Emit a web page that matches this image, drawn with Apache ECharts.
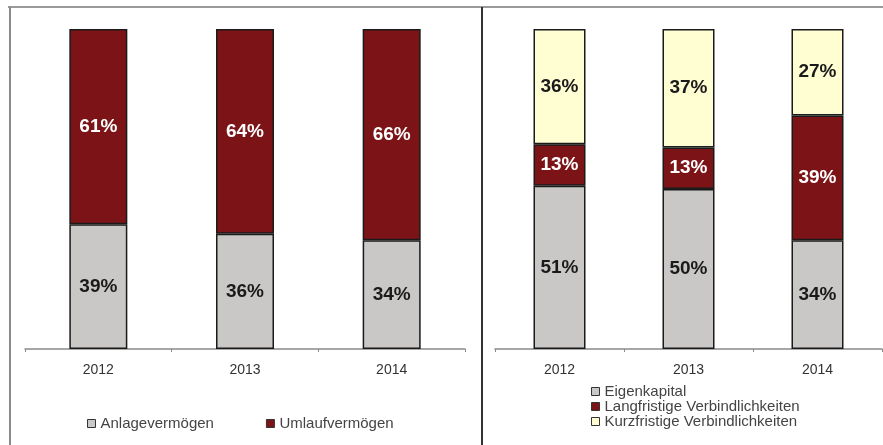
<!DOCTYPE html>
<html><head><meta charset="utf-8">
<script src="https://cdn.jsdelivr.net/npm/echarts@6/dist/echarts.min.js"></script>
<style>html,body{margin:0;padding:0;background:#fff}#c{width:883px;height:445px}</style>
</head><body><div id="c"></div>
<script>
const years = ['2012', '2013', '2014'];
// left chart
const anlagevermoegen = [39, 36, 34];
const umlaufvermoegen = [61, 64, 66];
// right chart
const eigenkapital = [51, 50, 34];
const langfristig = [13, 13, 39];
const kurzfristig = [36, 37, 27];

const GRAY = '#cac8c7', RED = '#7c1417', CREAM = '#fffdd2';
const chart = echarts.init(document.getElementById('c'));
const lbl = (color) => ({show: true, position: 'inside', formatter: p => p.value + '%',
  color: color, fontFamily: 'Liberation Sans, Arial, sans-serif', fontWeight: 'bold', fontSize: 19});
const bar = (name, data, color, txt, xi, w) => ({
  name, type: 'bar', stack: 's' + xi, xAxisIndex: xi, yAxisIndex: xi, data, barWidth: w,
  itemStyle: {color, borderColor: '#1a1a1a', borderWidth: 1.5},
  label: lbl(txt)
});
const xAx = (gi) => ({type: 'category', gridIndex: gi, data: years,
  axisLine: {lineStyle: {color: '#8a8a8a', width: 1.5}},
  axisTick: {show: true, length: 3, lineStyle: {color: '#8a8a8a'}},
  axisLabel: {color: '#333', fontSize: 14, margin: 14, fontFamily: 'Liberation Sans, Arial, sans-serif'}});
const yAx = (gi) => ({type: 'value', gridIndex: gi, min: 0, max: 100, show: false, splitLine: {show: false}});
const legText = {color: '#444', fontSize: 15, lineHeight: 15, fontFamily: 'Liberation Sans, Arial, sans-serif'};
chart.setOption({
  animation: false,
  grid: [
    {left: 25, top: 29, width: 440, height: 320},
    {left: 495, top: 29, width: 387, height: 320}
  ],
  xAxis: [xAx(0), xAx(1)],
  yAxis: [yAx(0), yAx(1)],
  legend: [
    {data: ['Anlagevermögen', 'Umlaufvermögen'], left: 87, top: 416, orient: 'horizontal', padding: 0,
      itemWidth: 8, itemHeight: 8, itemGap: 52, itemStyle: {borderColor: '#333', borderWidth: 1},
      icon: 'rect', textStyle: legText},
    {data: ['Eigenkapital', 'Langfristige Verbindlichkeiten', 'Kurzfristige Verbindlichkeiten'],
      left: 591, top: 384, orient: 'vertical', padding: 0, itemWidth: 8, itemHeight: 8, itemGap: 0, icon: 'rect',
      textStyle: legText, itemStyle: {borderColor: '#333', borderWidth: 1}}
  ],
  series: [
    bar('Anlagevermögen', anlagevermoegen, GRAY, '#1a1a1a', 0, 58),
    bar('Umlaufvermögen', umlaufvermoegen, RED, '#ffffff', 0, 58),
    bar('Eigenkapital', eigenkapital, GRAY, '#1a1a1a', 1, 52),
    bar('Langfristige Verbindlichkeiten', langfristig, RED, '#ffffff', 1, 52),
    bar('Kurzfristige Verbindlichkeiten', kurzfristig, CREAM, '#1a1a1a', 1, 52)
  ],
  graphic: [
    {type: 'line', shape: {x1: 8, y1: 7, x2: 883, y2: 7}, style: {stroke: '#9a9a9a', lineWidth: 2}},
    {type: 'line', shape: {x1: 10, y1: 7, x2: 10, y2: 445}, style: {stroke: '#8a8a8a', lineWidth: 2}},
    {type: 'line', shape: {x1: 482, y1: 7, x2: 482, y2: 445}, style: {stroke: '#333', lineWidth: 2}}
  ]
});
</script></body></html>
